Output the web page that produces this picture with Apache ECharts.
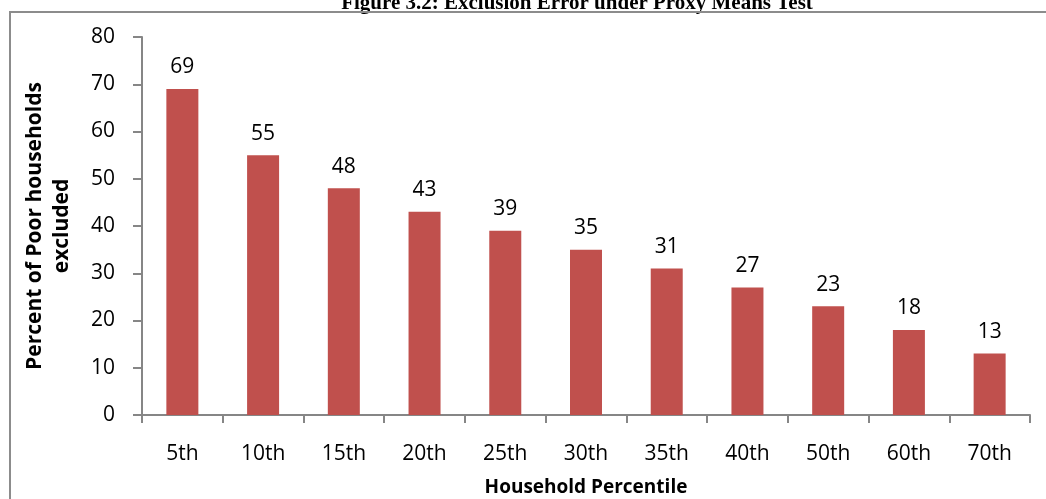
<!DOCTYPE html>
<html>
<head>
<meta charset="utf-8">
<script src="https://cdn.jsdelivr.net/npm/echarts@6/dist/echarts.min.js"></script>
<style>
  html, body { margin: 0; padding: 0; background: #fff; }
  #chart { width: 1046px; height: 499px; }
</style>
</head>
<body>
<div id="chart"></div>
<script>
// Household percentile cut-offs and share of poor households excluded (%)
const percentiles = ['5th', '10th', '15th', '20th', '25th', '30th', '35th', '40th', '50th', '60th', '70th'];
const excluded = [69, 55, 48, 43, 39, 35, 31, 27, 23, 18, 13];
const yTicks = { min: 0, max: 80, interval: 10 };

const chart = echarts.init(document.getElementById('chart'), null, { renderer: 'canvas' });
const font = '"Open Sans", "Noto Sans", sans-serif';
const axisGray = '#868686';

chart.setOption({
  animation: false,
  graphic: [
    {
      type: 'text',
      x: 577,
      y: -7,
      style: {
        text: 'Figure 3.2: Exclusion Error under Proxy Means Test',
        font: 'bold 21px "Liberation Serif", "DejaVu Serif", serif',
        fill: '#000',
        align: 'center'
      }
    },
    {
      type: 'line',
      shape: { x1: 9, y1: 12, x2: 1046, y2: 12 },
      style: { stroke: '#8c8c8c', lineWidth: 2 }
    },
    {
      type: 'line',
      shape: { x1: 10, y1: 12, x2: 10, y2: 499 },
      style: { stroke: '#8c8c8c', lineWidth: 2 }
    }
  ],
  grid: { left: 142, right: 16, top: 37, bottom: 84, containLabel: false, outerBoundsMode: 'none' },
  xAxis: {
    type: 'category',
    data: percentiles,
    name: 'Household Percentile',
    nameLocation: 'middle',
    nameGap: 63,
    nameTextStyle: { fontFamily: font, fontSize: 19, fontWeight: 'bold', color: '#000' },
    axisLine: { lineStyle: { color: axisGray, width: 2 } },
    axisTick: { show: true, alignWithLabel: false, length: 8, lineStyle: { color: axisGray, width: 2 } },
    axisLabel: { fontFamily: font, fontSize: 21, color: '#000', margin: 29 }
  },
  yAxis: {
    type: 'value',
    min: yTicks.min,
    max: yTicks.max,
    interval: yTicks.interval,
    name: 'Percent of Poor households\nexcluded',
    nameLocation: 'middle',
    nameGap: 66,
    nameRotate: 90,
    nameTextStyle: { fontFamily: font, fontSize: 21, fontWeight: 'bold', color: '#000', lineHeight: 27 },
    splitLine: { show: false },
    axisLine: { show: true, lineStyle: { color: axisGray, width: 2 } },
    axisTick: { show: true, length: 9, lineStyle: { color: axisGray, width: 2 } },
    axisLabel: { fontFamily: font, fontSize: 21, color: '#000', margin: 27 }
  },
  series: [{
    type: 'bar',
    data: excluded,
    barWidth: 32,
    itemStyle: { color: '#C0504D' },
    label: {
      show: true,
      position: 'top',
      distance: 11,
      fontFamily: font,
      fontSize: 21,
      color: '#000'
    }
  }]
});
</script>
</body>
</html>
